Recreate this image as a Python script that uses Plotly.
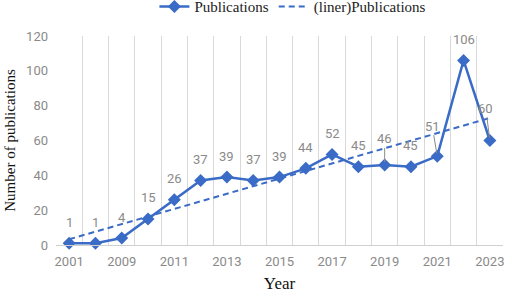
import numpy as np
import plotly.graph_objects as go

years = ["2001", "2008", "2009", "2010", "2011", "2012", "2013", "2014", "2015",
         "2016", "2017", "2018", "2019", "2020", "2021", "2022", "2023"]
publications = [1, 1, 4, 15, 26, 37, 39, 37, 39, 44, 52, 45, 46, 45, 51, 106, 60]
y_ticks = [0, 20, 40, 60, 80, 100, 120]

idx = list(range(len(years)))
slope, intercept = np.polyfit(idx, publications, 1)
trend = [slope * i + intercept for i in idx]

blue = "#3a6bc6"
gray = "#8a8a8a"
sans = "Roboto, Arial, sans-serif"
serif = "Liberation Serif, Times New Roman, serif"

fig = go.Figure()
fig.add_trace(go.Scatter(
    x=idx, y=publications, mode="lines+markers", name="Publications",
    line=dict(color=blue, width=2.5),
    marker=dict(symbol="diamond", size=10, color=blue),
    cliponaxis=False,
))
fig.add_trace(go.Scatter(
    x=idx, y=trend, mode="lines", name="(liner)Publications",
    line=dict(color=blue, width=2, dash="6px,4px"),
))

# data labels
leader = {12: (0, -26), 14: (-5, -30), 16: (-4, -32)}
for i, v in zip(idx, publications):
    if i in leader:
        ax, ay = leader[i]
        fig.add_annotation(x=i, y=v, text=str(v), showarrow=True, ax=ax, ay=ay,
                           arrowhead=0, arrowwidth=1, arrowcolor=gray, standoff=3,
                           font=dict(family=sans, size=13, color=gray))
    else:
        fig.add_annotation(x=i, y=v, text=str(v), showarrow=False, yshift=21,
                           font=dict(family=sans, size=13, color=gray))

fig.update_layout(
    width=505, height=293,
    margin=dict(l=56, r=2, t=36, b=48, autoexpand=False),
    paper_bgcolor="white", plot_bgcolor="white",
    showlegend=True,
    legend=dict(orientation="h", x=0.53, xanchor="center", y=1.14, yanchor="middle",
                font=dict(family=serif, size=15, color="#222"),
                bgcolor="rgba(0,0,0,0)"),
    xaxis=dict(
        range=[-0.5, 16.5], tickmode="array", tickvals=idx[::2], ticktext=years[::2],
        showgrid=False, zeroline=False, showline=True, linecolor="#d0d0d0", linewidth=1,
        ticks="", automargin=False, ticklabelstandoff=4,
        tickfont=dict(family=sans, size=13, color=gray),
        minor=dict(tickmode="array", tickvals=[i + 0.5 for i in range(-1, 17)],
                   showgrid=True, gridcolor="#d9d9d9", gridwidth=1),
        title=dict(text="Year", font=dict(family=serif, size=17, color="#111"), standoff=14),
    ),
    yaxis=dict(
        range=[0, 120], tickmode="array", tickvals=y_ticks, showgrid=False, zeroline=False,
        showline=False, ticks="", automargin=False, ticklabelstandoff=7,
        tickfont=dict(family=sans, size=13, color=gray),
        title=dict(text="Number of publications",
                   font=dict(family=serif, size=15, color="#111"), standoff=6),
    ),
)

fig.write_html("out.html", config={"displayModeBar": False},
               post_script="document.body.style.margin='0';document.body.style.overflow='hidden';")
